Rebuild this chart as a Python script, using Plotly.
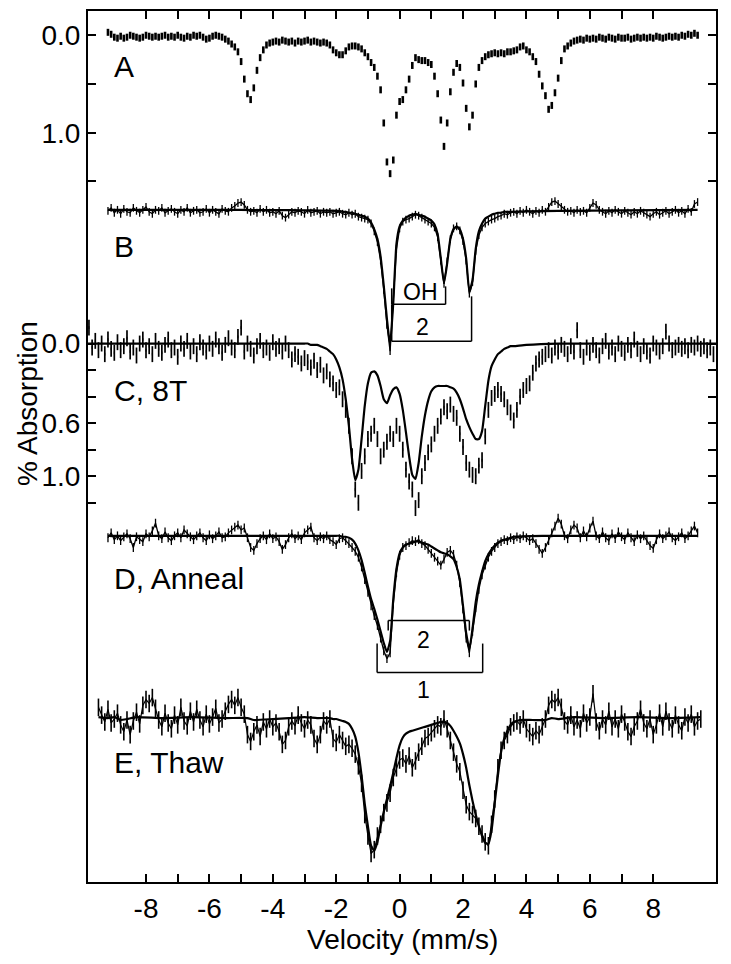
import numpy as np
import plotly.graph_objects as go

# ---------------- data ----------------
STEP = 0.1  # mm/s per channel (as sampled)

# Spectrum A (% absorption), channels from -9.2 mm/s
A_V0 = -9.2
A_DATA = [
    -0.03, -0.01, 0.02, 0.03, 0.01, 0.03, 0.02, 0.00, 0.01, 0.02,
    0.03, 0.02, 0.00, 0.01, 0.02, 0.01, 0.02, 0.01, 0.00, 0.02,
    0.01, 0.02, 0.00, 0.02, 0.03, 0.01, 0.02, 0.00, 0.01, 0.00,
    0.02, 0.04, 0.03, 0.01, 0.00, 0.01, 0.02, 0.04, 0.06, 0.09,
    0.12, 0.17, 0.27, 0.45, 0.60, 0.66, 0.54, 0.36, 0.23, 0.15,
    0.10, 0.08, 0.07, 0.06, 0.07, 0.05, 0.06, 0.07, 0.06, 0.08,
    0.06, 0.07, 0.06, 0.05, 0.07, 0.06, 0.07, 0.08, 0.07, 0.08,
    0.10, 0.15, 0.18, 0.20, 0.20, 0.16, 0.12, 0.11, 0.11, 0.12,
    0.14, 0.18, 0.22, 0.28, 0.33, 0.42, 0.56, 0.90, 1.30, 1.42,
    1.28, 0.82, 0.68, 0.66, 0.56, 0.45, 0.31, 0.23, 0.25, 0.26,
    0.26, 0.28, 0.30, 0.42, 0.60, 0.87, 1.14, 0.90, 0.58, 0.38,
    0.29, 0.33, 0.49, 0.75, 0.94, 0.82, 0.50, 0.33, 0.26, 0.22,
    0.20, 0.19, 0.18, 0.19, 0.18, 0.19, 0.17, 0.17, 0.16, 0.15,
    0.12, 0.11, 0.15, 0.17, 0.22, 0.27, 0.40, 0.52, 0.62, 0.76,
    0.72, 0.59, 0.44, 0.26, 0.14, 0.11, 0.08, 0.06, 0.05, 0.04,
    0.05, 0.03, 0.04, 0.03, 0.04, 0.02, 0.03, 0.04, 0.02, 0.03,
    0.04, 0.02, 0.03, 0.03, 0.02, 0.04, 0.03, 0.02, 0.03, 0.02,
    0.03, 0.02, 0.03, 0.01, 0.02, 0.03, 0.02, 0.01, 0.02, 0.01,
    0.02, 0.00, 0.01, -0.01, 0.00, -0.02, 0.00,
]

# Spectrum B, channels from -9.2 mm/s
B_V0 = -9.2
B_DATA = [
    0.01, -0.02, 0.03, 0.00, 0.04, -0.01, 0.02, 0.03, -0.02, 0.01,
    0.03, 0.00, -0.03, 0.02, 0.04, 0.00, 0.01, -0.02, 0.03, 0.01,
    -0.01, 0.02, 0.04, 0.00, 0.02, -0.02, 0.03, 0.01, 0.00, 0.03,
    0.02, -0.01, 0.03, 0.00, 0.02, 0.04, -0.01, 0.01, 0.02, -0.02,
    -0.04, -0.07, -0.08, -0.05, 0.00, 0.02, 0.01, 0.03, -0.01, 0.02,
    0.00, 0.03, 0.02, 0.04, 0.01, 0.06, 0.08, 0.05, 0.02, 0.03,
    0.01, 0.02, 0.04, 0.00, 0.03, 0.02, 0.01, 0.04, 0.02, 0.03,
    0.02, 0.04, 0.03, 0.02, 0.04, 0.05, 0.03, 0.05, 0.04, 0.07,
    0.08, 0.09, 0.10, 0.14, 0.22, 0.33, 0.52, 0.82, 1.18, 1.45,
    0.98, 0.40, 0.19, 0.12, 0.10, 0.09, 0.07, 0.05, 0.06, 0.08,
    0.10, 0.12, 0.14, 0.18, 0.28, 0.52, 0.76, 0.53, 0.30, 0.19,
    0.17, 0.21, 0.32, 0.52, 0.86, 0.74, 0.42, 0.26, 0.18, 0.14,
    0.12, 0.10, 0.09, 0.07, 0.06, 0.04, 0.05, 0.03, 0.02, 0.04,
    0.01, 0.03, 0.00, 0.02, 0.04, 0.01, 0.03, 0.00, 0.02, -0.03,
    -0.08, -0.09, -0.06, -0.03, 0.00, 0.02, 0.01, 0.03, 0.00, 0.02,
    0.01, 0.03, -0.02, -0.07, -0.05, 0.00, 0.02, 0.04, 0.01, 0.03,
    0.00, 0.02, 0.04, 0.01, 0.03, 0.05, 0.02, 0.04, 0.01, 0.03,
    0.05, 0.07, 0.04, 0.02, 0.05, 0.03, 0.01, 0.04, 0.02, 0.00,
    0.03, 0.01, 0.04, -0.01, 0.02, -0.06, -0.08,
]
B_FIT_V0 = -2.0
B_FIT_CORE = [
    0.01, 0.01, 0.02, 0.02, 0.03, 0.03, 0.04, 0.05, 0.06, 0.07,
    0.09, 0.13, 0.20, 0.30, 0.48, 0.78, 1.12, 1.38, 0.95, 0.35,
    0.17, 0.11, 0.08, 0.06, 0.05, 0.04, 0.05, 0.06, 0.07, 0.09,
    0.11, 0.15, 0.25, 0.50, 0.75, 0.55, 0.30, 0.20, 0.17, 0.20,
    0.30, 0.50, 0.84, 0.72, 0.40, 0.22, 0.14, 0.09, 0.07, 0.05,
    0.04, 0.03, 0.03, 0.02, 0.02, 0.02,
]
B_FIT_LEFT_V = [-9.2, -6.0, -4.0, -3.0, -2.5]
B_FIT_LEFT = [0.0, 0.0, 0.003, 0.005, 0.008]
B_FIT_RIGHT_V = [4.0, 5.0, 7.0, 9.4]
B_FIT_RIGHT = [0.015, 0.01, 0.005, 0.0]

# Spectrum C (8 T), channels from -9.8 mm/s
C_V0 = -9.8
C_DATA = [
    -0.12, 0.03, -0.02, 0.05, 0.00, 0.08, -0.03, 0.04, 0.07, -0.01,
    0.05, 0.02, -0.04, 0.06, 0.03, 0.09, 0.00, -0.03, 0.05, 0.02,
    0.08, -0.02, 0.04, 0.07, 0.01, -0.03, 0.05, 0.03, 0.10, 0.00,
    0.04, -0.02, 0.06, 0.02, 0.08, -0.01, 0.03, 0.06, 0.00, 0.04,
    -0.03, 0.02, 0.07, 0.01, -0.04, 0.03, 0.05, -0.05, -0.12, 0.06,
    0.00, 0.04, 0.09, 0.02, -0.02, 0.05, 0.03, 0.07, -0.01, 0.04,
    0.02, 0.06, 0.00, 0.05, 0.12, 0.08, 0.10, 0.15, 0.11, 0.14,
    0.18, 0.13, 0.20, 0.16, 0.24, 0.21, 0.27, 0.30, 0.35, 0.33,
    0.42, 0.50, 0.62, 0.85, 1.10, 1.20, 0.96, 0.85, 0.72, 0.68,
    0.62, 0.72, 0.85, 0.80, 0.74, 0.68, 0.72, 0.62, 0.68, 0.80,
    0.95, 1.04, 1.10, 1.24, 1.18, 1.00, 0.90, 0.82, 0.76, 0.68,
    0.62, 0.55, 0.48, 0.51, 0.46, 0.53, 0.56, 0.68, 0.78, 0.90,
    0.95, 0.99, 1.00, 0.92, 0.88, 0.70, 0.50, 0.41, 0.38, 0.35,
    0.38, 0.42, 0.48, 0.52, 0.58, 0.50, 0.40, 0.35, 0.32, 0.30,
    0.22, 0.15, 0.12, 0.10, 0.08, 0.05, 0.09, 0.03, 0.06, 0.01,
    0.04, 0.08, 0.02, 0.06, -0.10, 0.05, 0.10, 0.03, 0.07, 0.01,
    0.05, 0.09, 0.02, -0.02, 0.06, 0.03, 0.08, 0.00, 0.04, 0.07,
    0.01, 0.05, -0.03, 0.04, 0.08, 0.02, 0.06, 0.09, 0.00, 0.03,
    0.06, 0.02, -0.09, 0.00, 0.05, 0.03, 0.01, 0.04, 0.02, 0.05,
    0.01, 0.03, 0.00, 0.04, 0.02, 0.05, 0.03, 0.08,
]
C_FIT_V0 = -3.0
C_FIT_CORE = [
    0.00, 0.00, 0.01, 0.01, 0.01, 0.02, 0.03, 0.04, 0.06, 0.08,
    0.12, 0.18, 0.27, 0.42, 0.62, 0.87, 1.03, 0.95, 0.72, 0.47,
    0.30, 0.22, 0.21, 0.24, 0.32, 0.42, 0.45, 0.39, 0.345, 0.33,
    0.38, 0.50, 0.67, 0.85, 0.99, 1.02, 0.90, 0.70, 0.54, 0.43,
    0.36, 0.33, 0.32, 0.32, 0.32, 0.32, 0.33, 0.34, 0.37, 0.42,
    0.49, 0.57, 0.63, 0.68, 0.72, 0.72, 0.66, 0.47, 0.28, 0.17,
    0.12, 0.08, 0.06, 0.04, 0.03, 0.02, 0.02,
]
C_FIT_LEFT_V = [-9.83, -6.0, -4.0, -3.5]
C_FIT_LEFT = [0.0, 0.0, 0.0, 0.0]
C_FIT_RIGHT_V = [4.0, 5.0, 9.98]
C_FIT_RIGHT = [0.01, 0.0, 0.0]

# Spectrum D (Anneal), channels from -9.2 mm/s
D_V0 = -9.2
D_DATA = [
    0.02, -0.03, 0.04, 0.00, 0.05, 0.01, -0.02, 0.03, 0.12, 0.01,
    0.04, 0.06, -0.02, 0.01, -0.05, -0.13, 0.00, 0.03, -0.04, 0.02,
    0.05, 0.00, -0.03, 0.02, -0.06, -0.02, 0.01, 0.04, 0.00, -0.03,
    0.02, 0.05, -0.01, 0.03, 0.00, -0.04, 0.02, 0.01, -0.03, -0.06,
    -0.09, -0.11, -0.06, -0.08, 0.02, 0.12, 0.15, 0.08, 0.03, 0.00,
    0.04, -0.02, 0.03, 0.01, 0.06, 0.14, 0.09, 0.02, -0.02, 0.03,
    0.00, 0.04, -0.03, -0.06, -0.09, 0.02, 0.05, 0.01, 0.03, 0.00,
    0.04, 0.06, 0.09, 0.03, 0.02, 0.05, 0.08, 0.12, 0.16, 0.22,
    0.32, 0.45, 0.58, 0.72, 0.82, 0.92, 1.05, 1.18, 1.26, 1.20,
    0.70, 0.38, 0.20, 0.12, 0.10, 0.07, 0.05, 0.06, 0.04, 0.08,
    0.10, 0.14, 0.18, 0.22, 0.26, 0.30, 0.24, 0.17, 0.15, 0.19,
    0.30, 0.48, 0.75, 1.05, 1.20, 0.98, 0.74, 0.55, 0.40, 0.30,
    0.22, 0.16, 0.12, 0.08, 0.06, 0.04, 0.05, 0.02, 0.04, 0.01,
    0.03, 0.00, 0.02, 0.05, 0.03, 0.08, 0.14, 0.18, 0.12, 0.05,
    -0.03, -0.10, -0.18, -0.12, 0.00, 0.03, -0.06, -0.11, -0.08, 0.02,
    -0.05, 0.01, -0.08, -0.15, 0.00, 0.03, -0.04, 0.02, 0.05, -0.02,
    0.03, -0.04, 0.01, 0.04, -0.03, 0.02, 0.06, -0.01, 0.03, 0.00,
    0.05, 0.10, 0.13, 0.04, -0.02, 0.03, 0.00, -0.04, 0.02, 0.05,
    0.01, -0.03, 0.03, 0.00, -0.05, -0.10, -0.03,
]
D_FIT_V0 = -2.0
D_FIT_CORE = [
    0.00, 0.00, 0.01, 0.01, 0.02, 0.04, 0.08, 0.15, 0.25, 0.38,
    0.52, 0.65, 0.75, 0.86, 0.98, 1.10, 1.19, 1.08, 0.65, 0.34,
    0.18, 0.12, 0.09, 0.08, 0.07, 0.06, 0.06, 0.07, 0.08, 0.09,
    0.11, 0.13, 0.15, 0.17, 0.18, 0.19, 0.21, 0.24, 0.32, 0.45,
    0.72, 1.00, 1.16, 0.95, 0.68, 0.50, 0.37, 0.26, 0.19, 0.14,
    0.10, 0.07, 0.05, 0.04, 0.03, 0.02, 0.01,
]
D_FIT_LEFT_V = [-9.2, -5.0, -3.0]
D_FIT_LEFT = [0.0, 0.0, 0.0]
D_FIT_RIGHT_V = [4.5, 9.4]
D_FIT_RIGHT = [0.0, 0.0]

# Spectrum E (Thaw), channels from -9.5 mm/s
E_V0 = -9.5
E_DATA = [
    -0.10, -0.02, 0.05, -0.08, 0.06, 0.02, -0.04, 0.08, 0.15, 0.03,
    0.18, 0.04, -0.05, 0.07, -0.12, -0.18, -0.14, -0.20, -0.09, 0.03,
    0.10, -0.04, 0.06, 0.12, -0.02, 0.08, -0.10, 0.04, 0.09, -0.06,
    0.05, -0.08, 0.03, 0.10, -0.03, 0.07, 0.00, -0.09, 0.06, 0.02,
    -0.06, -0.13, -0.18, -0.12, -0.20, -0.10, -0.03, 0.18, 0.25, 0.15,
    0.08, 0.20, 0.05, 0.12, 0.02, 0.10, 0.06, 0.15, 0.28, 0.24,
    0.10, 0.04, 0.09, -0.02, 0.06, 0.12, 0.03, 0.08, 0.22, 0.28,
    0.18, 0.04, 0.08, 0.02, 0.22, 0.26, 0.18, 0.24, 0.30, 0.28,
    0.32, 0.38, 0.50, 0.68, 1.00, 1.22, 1.40, 1.36, 1.22, 1.10,
    0.98, 0.88, 0.78, 0.62, 0.52, 0.44, 0.42, 0.48, 0.40, 0.52,
    0.45, 0.36, 0.30, 0.22, 0.20, 0.16, 0.12, 0.08, 0.10, 0.02,
    0.12, 0.24, 0.36, 0.48, 0.56, 0.75, 0.90, 0.97, 1.00, 1.04,
    1.12, 1.20, 1.28, 1.32, 1.10, 0.84, 0.52, 0.34, 0.24, 0.18,
    0.10, 0.06, 0.04, 0.08, 0.02, 0.12, 0.16, 0.20, 0.14, 0.18,
    0.10, 0.02, -0.12, -0.18, -0.15, -0.20, -0.10, 0.04, 0.08, -0.02,
    0.10, 0.03, 0.12, -0.04, 0.06, 0.00, -0.24, 0.05, 0.14, 0.02,
    0.08, -0.06, 0.10, 0.02, 0.12, -0.03, 0.05, 0.15, 0.20, 0.10,
    0.04, -0.08, 0.06, 0.12, 0.02, 0.18, 0.08, -0.04, 0.10, -0.06,
    0.05, 0.12, -0.02, 0.08, 0.14, 0.00, 0.06, -0.03, 0.10, 0.04,
    0.02,
]
E_FIT_V0 = -2.2
E_FIT_CORE = [
    0.01, 0.02, 0.02, 0.03, 0.04, 0.05, 0.07, 0.12, 0.20, 0.36,
    0.60, 0.89, 1.12, 1.32, 1.37, 1.28, 1.12, 0.97, 0.84, 0.71,
    0.57, 0.42, 0.29, 0.21, 0.17, 0.15, 0.14, 0.13, 0.12, 0.11,
    0.10, 0.09, 0.08, 0.07, 0.06, 0.05, 0.05, 0.06, 0.09, 0.14,
    0.20, 0.27, 0.38, 0.52, 0.70, 0.86, 1.00, 1.12, 1.22, 1.29,
    1.30, 1.16, 0.88, 0.60, 0.36, 0.22, 0.14, 0.08, 0.05, 0.04,
    0.03,
]
E_FIT_LEFT_V = [-9.5, -9.2, -9.0, -8.8, -8.6, -8.3, -7.5, -6.5, -5.5, -4.8, -4.6, -4.0, -3.5, -3.0, -2.6]
E_FIT_LEFT = [0.0, 0.01, 0.0, 0.03, 0.02, 0.0, 0.01, 0.0, 0.01, 0.01, 0.03, 0.02, 0.01, 0.0, 0.01]
E_FIT_RIGHT_V = [4.2, 4.6, 4.8, 5.0, 5.5, 6.5, 7.5, 8.5, 9.5]
E_FIT_RIGHT = [0.03, 0.03, 0.01, 0.02, 0.0, 0.01, 0.0, 0.01, 0.0]

# Y tick values (% absorption) for the two labelled panels
A_TICKS = [0.0, 0.5, 1.0, 1.5]
A_TICKTEXT = ["0.0", "", "1.0", ""]
C_TICKS = [0.0, 0.2, 0.4, 0.6, 0.8, 1.0, 1.2]
C_TICKTEXT = ["0.0", "", "", "0.6", "", "1.0", ""]
X_TICKS = list(range(-8, 9))
X_TICKTEXT = [str(v) if v % 2 == 0 else "" for v in X_TICKS]

# ---------------- layout / style ----------------
# page body adds an 8 px margin; the figure is sized to compensate
PAGE_PAD = 8
# vertical stacking: display coordinate (page pixel row) = offset + scale * absorption
OFFSET = {"A": 33.3, "B": 208.3, "C": 342.3, "D": 535.0, "E": 716.7}
SCALE = {"A": 97.7, "B": 97.7, "C": 133.0, "D": 97.7, "E": 97.7}
ERR = {"B": 0.04, "C": 0.06, "D": 0.045, "E": 0.09}
Y_TOP, Y_BOTTOM = 9, 882          # plot-area rows on the page
X_LEFT, X_RIGHT = 88, 716         # plot-area columns on the page
PAGE_W, PAGE_H = 731, 964
X_RANGE = [-9.83, 9.98]
FONT = "Liberation Sans, Arial, sans-serif"


def grid(v0, n):
    return np.round(v0 + STEP * np.arange(n), 2)


def disp(vals, p):
    return OFFSET[p] + SCALE[p] * np.asarray(vals, dtype=float)


def fit_xy(lv, ly, v0, core, rv, ry):
    x = list(lv) + list(grid(v0, len(core))) + list(rv)
    y = list(ly) + list(core) + list(ry)
    return x, y


fig = go.Figure()

# A: points only
fig.add_trace(go.Scatter(
    x=grid(A_V0, len(A_DATA)), y=disp(A_DATA, "A"), mode="markers",
    marker=dict(symbol="line-ns-open", size=5, color="black",
                line=dict(width=2.6, color="black")),
    hoverinfo="skip", showlegend=False))

data_sets = [("B", B_V0, B_DATA, "lines", 1.3, 1.3), ("C", C_V0, C_DATA, "markers", 1.0, 1.7),
             ("D", D_V0, D_DATA, "lines", 1.3, 1.3), ("E", E_V0, E_DATA, "lines", 1.2, 1.6)]
for p, v0, vals, mode, lw, ew in data_sets:
    fig.add_trace(go.Scatter(
        x=grid(v0, len(vals)), y=disp(vals, p), mode=mode,
        line=dict(color="black", width=lw),
        marker=dict(symbol="line-ns-open", size=2, color="black",
                    line=dict(width=1, color="black")),
        error_y=dict(type="constant", value=SCALE[p] * ERR[p], thickness=ew,
                     width=0, color="black"),
        hoverinfo="skip", showlegend=False))

fits = [
    ("B", fit_xy(B_FIT_LEFT_V, B_FIT_LEFT, B_FIT_V0, B_FIT_CORE, B_FIT_RIGHT_V, B_FIT_RIGHT)),
    ("C", fit_xy(C_FIT_LEFT_V, C_FIT_LEFT, C_FIT_V0, C_FIT_CORE, C_FIT_RIGHT_V, C_FIT_RIGHT)),
    ("D", fit_xy(D_FIT_LEFT_V, D_FIT_LEFT, D_FIT_V0, D_FIT_CORE, D_FIT_RIGHT_V, D_FIT_RIGHT)),
    ("E", fit_xy(E_FIT_LEFT_V, E_FIT_LEFT, E_FIT_V0, E_FIT_CORE, E_FIT_RIGHT_V, E_FIT_RIGHT)),
]
for p, (fx, fy) in fits:
    fig.add_trace(go.Scatter(
        x=fx, y=disp(fy, p), mode="lines",
        line=dict(color="black", width=2.2, shape="spline", smoothing=0.5),
        hoverinfo="skip", showlegend=False))

# doublet brackets: (v_left, v_right, y_bar, y_left_end, y_right_end) in display units
BRACKETS = [
    (-0.25, 1.45, 303, 287, 285),
    (-0.25, 2.27, 340, 303, 295),
    (-0.36, 2.20, 620, 630, 630),
    (-0.71, 2.62, 672, 643, 643),
]
shapes = []
for vl, vr, yb, yl, yr in BRACKETS:
    seg = [(vl, yl, vl, yb), (vl, yb, vr, yb), (vr, yb, vr, yr)]
    for x0, y0, x1, y1 in seg:
        shapes.append(dict(type="line", xref="x", yref="y", x0=x0, y0=y0, x1=x1, y1=y1,
                           line=dict(color="black", width=1.5)))

BRACKET_LABELS = [("OH", 0.66, 291), ("2", 0.72, 326), ("2", 0.74, 639), ("1", 0.76, 690)]
PANEL_LABELS = [("A", 65), ("B", 245), ("C, 8T", 389), ("D, Anneal", 578), ("E, Thaw", 762)]
LABEL_V = -9.07

annotations = []
for t, v, yy in BRACKET_LABELS:
    annotations.append(dict(text=t, x=v, y=yy, xref="x", yref="y", showarrow=False,
                            font=dict(size=23, color="black", family=FONT),
                            xanchor="center", yanchor="middle"))
for t, yy in PANEL_LABELS:
    annotations.append(dict(text=t, x=LABEL_V, y=yy, xref="x", yref="y", showarrow=False,
                            font=dict(size=30, color="black", family=FONT),
                            xanchor="left", yanchor="middle"))

PW = X_RIGHT - X_LEFT
PH = Y_BOTTOM - Y_TOP
annotations.append(dict(text="% Absorption", textangle=-90, xref="paper", yref="paper",
                        x=(27 - X_LEFT) / PW, y=(Y_BOTTOM - 403) / PH, showarrow=False,
                        font=dict(size=28, color="black", family=FONT),
                        xanchor="center", yanchor="middle"))
annotations.append(dict(text="Velocity (mm/s)", xref="paper", yref="paper",
                        x=0.5, y=(Y_BOTTOM - 940) / PH, showarrow=False,
                        font=dict(size=28, color="black", family=FONT),
                        xanchor="center", yanchor="middle"))

ytickvals = list(disp(A_TICKS, "A")) + list(disp(C_TICKS, "C"))
yticktext = A_TICKTEXT + C_TICKTEXT

fig.update_layout(
    width=PAGE_W - PAGE_PAD, height=PAGE_H - PAGE_PAD,
    margin=dict(l=X_LEFT - PAGE_PAD, r=PAGE_W - X_RIGHT, t=Y_TOP - PAGE_PAD,
                b=PAGE_H - Y_BOTTOM, pad=0),
    paper_bgcolor="white", plot_bgcolor="white",
    font=dict(family=FONT, color="black"),
    shapes=shapes, annotations=annotations,
    xaxis=dict(range=X_RANGE, tickvals=X_TICKS, ticktext=X_TICKTEXT,
               ticks="inside", ticklen=8, tickwidth=2, tickcolor="black",
               showline=True, linewidth=2, linecolor="black", mirror="ticks",
               showgrid=False, zeroline=False,
               tickfont=dict(size=28, family=FONT, color="black")),
    yaxis=dict(range=[Y_BOTTOM, Y_TOP], tickvals=ytickvals, ticktext=yticktext,
               ticks="inside", ticklen=8, tickwidth=2, tickcolor="black",
               showline=True, linewidth=2, linecolor="black", mirror="ticks",
               showgrid=False, zeroline=False,
               tickfont=dict(size=28, family=FONT, color="black")),
)

fig.write_html("out.html")
